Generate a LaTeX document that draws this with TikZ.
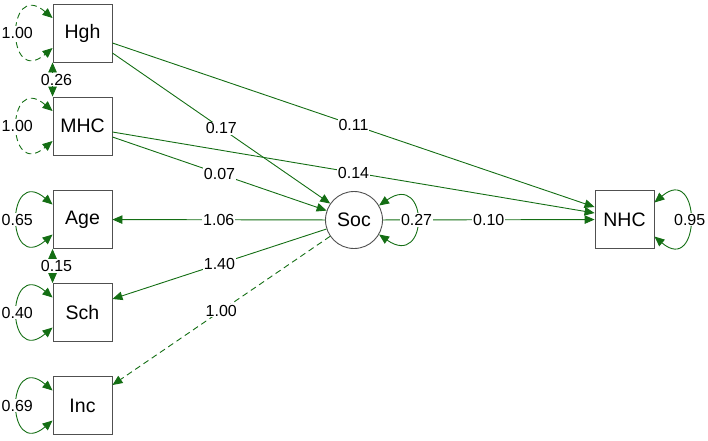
\documentclass[tikz,border=0pt]{standalone}
\usepackage{fontspec}
\setmainfont{Liberation Sans}
\usetikzlibrary{arrows.meta,calc}
\definecolor{eg}{RGB}{20,110,20}
\definecolor{bx}{RGB}{80,80,80}
\begin{document}
\begin{tikzpicture}[x=1pt,y=-1pt,
  box/.style={draw=bx,line width=0.9pt,minimum width=59pt,minimum height=58pt,inner sep=0pt,font=\fontsize{19.5}{22}\selectfont},
  lat/.style={circle,draw=bx,line width=0.9pt,minimum size=57pt,inner sep=0pt,font=\fontsize{19.5}{22}\selectfont},
  pth/.style={draw=eg,line width=0.9pt,-{Triangle[length=10pt,width=8.5pt]}},
  lp/.style={draw=eg,line width=0.9pt,{Triangle[length=10pt,width=8.5pt]}-{Triangle[length=10pt,width=8.5pt]}},
  dsh/.style={dash pattern=on 6pt off 4pt},
  lab/.style={fill=white,inner sep=1pt,font=\fontsize{16}{18}\selectfont}
]
\useasboundingbox (0,0) rectangle (708,440);
\node[box] (hgh) at (82.5,33) {Hgh};
\node[box] (mhc) at (82.5,126) {MHC};
\node[box] (age) at (82.5,219.5) {Age};
\node[box] (sch) at (82.5,312.5) {Sch};
\node[box] (inc) at (82.5,405.5) {Inc};
\node[box] (nhc) at (624.5,219.5) {NHC};
\node[lat] (soc) at (354,220) {Soc};

\draw[pth] ($(hgh.east)+(0,10)$) -- node[lab]{0.11} ($(nhc.west)+(0,-12.5)$);
\draw[pth] ($(hgh.east)+(0,20)$) -- node[lab]{0.17} (soc);
\draw[pth] ($(mhc.east)+(0,6)$) -- node[lab]{0.14} ($(nhc.west)+(0,-6.5)$);
\draw[pth] ($(mhc.east)+(0,11)$) -- node[lab]{0.07} (soc);
\draw[pth] (soc) -- node[lab]{0.10} (nhc);
\draw[pth] (soc) -- node[lab]{1.06} (age);
\draw[pth] (soc) -- node[lab]{1.40} ($(sch.east)+(0,-13.5)$);
\draw[pth,dsh] (soc) -- node[lab]{1.00} ($(inc.east)+(0,-20.5)$);

\draw[lp,dsh] ($(hgh.west)+(0,-15)$) .. controls +(-47,-40) and +(-47,40) .. node[lab]{1.00} ($(hgh.west)+(0,15)$);
\draw[lp,dsh] ($(mhc.west)+(0,-15)$) .. controls +(-47,-40) and +(-47,40) .. node[lab]{1.00} ($(mhc.west)+(0,15)$);
\draw[lp] ($(age.west)+(0,-15)$) .. controls +(-47,-40) and +(-47,40) .. node[lab]{0.65} ($(age.west)+(0,15)$);
\draw[lp] ($(sch.west)+(0,-15)$) .. controls +(-47,-40) and +(-47,40) .. node[lab]{0.40} ($(sch.west)+(0,15)$);
\draw[lp] ($(inc.west)+(0,-15)$) .. controls +(-47,-40) and +(-47,40) .. node[lab]{0.69} ($(inc.west)+(0,15)$);

\draw[lp] (soc.30) .. controls +(50,-35) and +(50,35) .. node[lab]{0.27} (soc.-30);
\draw[lp] ($(nhc.east)+(0,-17)$) .. controls +(47,-40) and +(47,40) .. node[lab]{0.95} ($(nhc.east)+(0,17)$);

\draw[lp] (hgh.south west) -- node[lab,xshift=4pt]{0.26} (mhc.north west);
\draw[lp] (age.south west) -- node[lab,xshift=4pt]{0.15} (sch.north west);
\end{tikzpicture}
\end{document}
